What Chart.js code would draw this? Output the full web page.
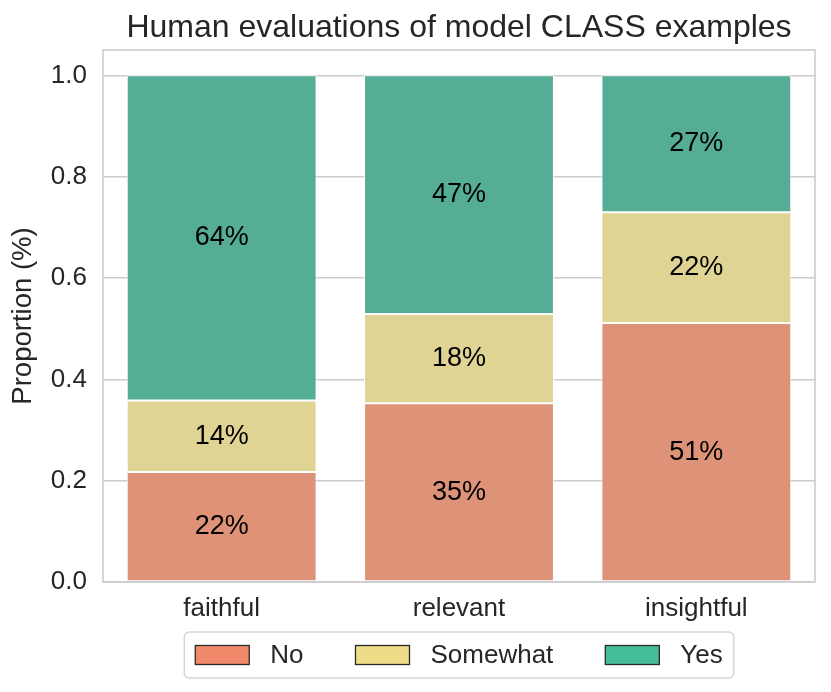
<!DOCTYPE html>
<html><head><meta charset="utf-8">
<script src="https://cdn.jsdelivr.net/npm/chart.js@4/dist/chart.umd.min.js"></script>
<style>html,body{margin:0;padding:0;background:#fff;overflow:hidden}canvas{display:block}</style>
</head><body>
<canvas id="c" width="831" height="692"></canvas>
<script>
const categories = ['faithful', 'relevant', 'insightful'];
const seriesNames = ['No', 'Somewhat', 'Yes'];
const noValues = [0.217, 0.353, 0.511];
const somewhatValues = [0.141, 0.176, 0.219];
const yesValues = [0.642, 0.471, 0.270];
const yTicks = [0, 0.2, 0.4, 0.6, 0.8, 1.0];
const barColors = ['#DE9277', '#E0D494', '#54AD94'];
const legendColors = ['#F08A6A', '#EDDC88', '#44BE9A'];
const chartTitle = 'Human evaluations of model CLASS examples';

const FAMILY = '"Liberation Sans", Arial, Helvetica, sans-serif';
const TEXT = '#262626';

const titlePlugin = {
  id: 'areaTitle',
  afterDraw(chart) {
    const ctx = chart.ctx, a = chart.chartArea;
    ctx.save();
    ctx.font = '32px ' + FAMILY;
    ctx.fillStyle = TEXT;
    ctx.textAlign = 'center';
    ctx.textBaseline = 'middle';
    ctx.fillText(chartTitle, (a.left + a.right) / 2, 28);
    ctx.restore();
  }
};

const labelPlugin = {
  id: 'barLabels',
  afterDatasetsDraw(chart) {
    const ctx = chart.ctx;
    ctx.save();
    ctx.font = '27px ' + FAMILY;
    ctx.fillStyle = '#000';
    ctx.textAlign = 'center';
    ctx.textBaseline = 'middle';
    chart.data.datasets.forEach((ds, di) => {
      const meta = chart.getDatasetMeta(di);
      meta.data.forEach((el, i) => {
        const v = ds.data[i];
        ctx.fillText(Math.round(v * 100) + '%', el.x, (el.y + el.base) / 2);
      });
    });
    const a = chart.chartArea;
    ctx.strokeStyle = '#cccccc';
    ctx.lineWidth = 1.6;
    ctx.strokeRect(a.left, a.top, a.right - a.left, a.bottom - a.top);
    ctx.restore();
  }
};

const legendPlugin = {
  id: 'boxLegend',
  afterDraw(chart) {
    const ctx = chart.ctx;
    const a = chart.chartArea;
    ctx.save();
    ctx.font = '26px ' + FAMILY;
    const patchW = 54, patchH = 19, gapText = 21, gapItem = 52, padX = 11;
    const widths = seriesNames.map(n => ctx.measureText(n).width);
    let total = padX * 2 + gapItem * (seriesNames.length - 1);
    widths.forEach(w => total += patchW + gapText + w);
    const cx = (a.left + a.right) / 2;
    const top = a.bottom + 50, h = 46;
    let x = cx - total / 2;
    ctx.strokeStyle = '#d6d6d6';
    ctx.lineWidth = 1.5;
    ctx.fillStyle = '#fff';
    ctx.beginPath();
    ctx.roundRect(x, top, total, h, 5);
    ctx.fill();
    ctx.stroke();
    const cy = top + h / 2;
    x += padX;
    seriesNames.forEach((n, i) => {
      ctx.fillStyle = legendColors[i];
      ctx.fillRect(x, cy - patchH / 2, patchW, patchH);
      ctx.strokeStyle = '#2a2a2a';
      ctx.lineWidth = 1.3;
      ctx.strokeRect(x, cy - patchH / 2, patchW, patchH);
      x += patchW + gapText;
      ctx.fillStyle = TEXT;
      ctx.textAlign = 'left';
      ctx.textBaseline = 'middle';
      ctx.fillText(n, x, cy + 1);
      x += widths[i] + gapItem;
    });
    ctx.restore();
  }
};

const valueSets = [noValues, somewhatValues, yesValues];
new Chart(document.getElementById('c'), {
  type: 'bar',
  data: {
    labels: categories,
    datasets: seriesNames.map((n, i) => ({
      label: n,
      data: valueSets[i],
      backgroundColor: barColors[i],
      borderColor: '#ffffff',
      borderWidth: 1,
      borderSkipped: false,
      categoryPercentage: 1.0,
      barPercentage: 0.8
    }))
  },
  options: {
    responsive: false,
    animation: false,
    devicePixelRatio: 1,
    layout: { padding: { left: 0, right: 16, top: 50, bottom: 0 } },
    plugins: {
      legend: { display: false },
      tooltip: { enabled: false },
      title: { display: false }
    },
    scales: {
      x: {
        stacked: true,
        afterFit: s => { s.height = 110; },
        grid: { display: false, drawTicks: false },
        border: { display: false },
        ticks: { color: TEXT, font: { size: 26, family: FAMILY }, padding: 11 }
      },
      y: {
        stacked: true,
        min: 0,
        max: 1.05,
        afterBuildTicks: s => { s.ticks = yTicks.map(v => ({ value: v })); },
        afterFit: s => { s.width = 103; },
        grid: { color: '#cccccc', lineWidth: 1.5, drawTicks: false },
        border: { display: false },
        ticks: { color: TEXT, font: { size: 26, family: FAMILY }, padding: 16,
                 callback: v => Number(v).toFixed(1) },
        title: { display: true, text: 'Proportion (%)', color: TEXT,
                 font: { size: 27.5, family: FAMILY }, padding: { top: 7, bottom: 0 } }
      }
    }
  },
  plugins: [labelPlugin, legendPlugin, titlePlugin]
});
</script>
</body></html>
